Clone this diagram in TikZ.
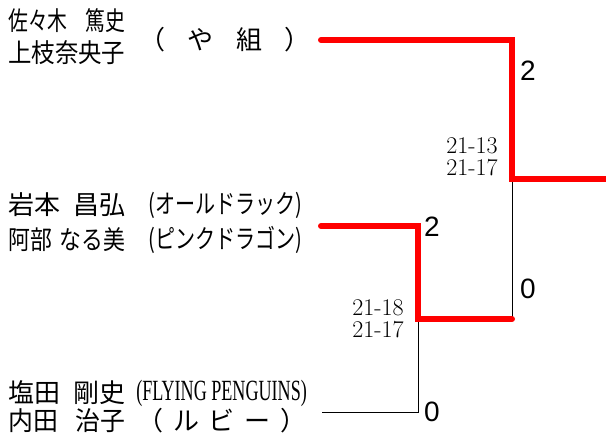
\documentclass[tikz,border=0pt]{standalone}
\usepackage{fontspec}
\usepackage{graphicx}
\newfontfamily\jpfont{Noto Sans CJK JP}
\newfontfamily\digitfont{Liberation Sans}
\newfontfamily\teamfont{Liberation Serif}
\newcommand{\pname}[3]{\resizebox{87.75pt}{\height}{#2\hspace{#1}#3}}
\newcommand{\fitw}[2]{\resizebox{#1}{\height}{#2}}

\begin{document}
\begin{tikzpicture}[
    x=0.75pt, y=-0.75pt,
    player/.style={anchor=west, inner sep=0pt, font=\jpfont\fontsize{19.5}{22}\selectfont},
    team/.style={inner sep=0pt, font=\jpfont\fontsize{19.5}{22}\selectfont},
    score/.style={inner sep=0pt, align=right, font=\fontsize{18}{16.5}\selectfont},
    games/.style={inner sep=0pt, font=\digitfont\fontsize{21}{21}\selectfont},
    win/.style={red, line width=4.5pt, line cap=round},
    lose/.style={black, line width=0.75pt}
]
    \useasboundingbox (0,0) rectangle (606,448);

    % pair 1
    \node[player] (p1a) at (8,21) {\pname{0.9em}{佐々木}{篤史}};
    \node[player] (p1b) at (8,53) {\fitw{87.75pt}{上枝奈央子}};
    \node[team] (t1) at (225,40) {\makebox[129pt]{（\hfill や\hfill 組\hfill ）}};

    % pair 2
    \node[player] (p2a) at (8,205) {\pname{0.5em}{岩本}{昌弘}};
    \node[player] (p2b) at (8,240) {\pname{0.35em}{阿部}{なる美}};
    \node[player] (t2a) at (148,205) {\fitw{115.5pt}{(オールドラック)}};
    \node[player] (t2b) at (148,240) {\fitw{115.5pt}{(ピンクドラゴン)}};

    % pair 3
    \node[player] (p3a) at (8,393) {\pname{0.5em}{塩田}{剛史}};
    \node[player] (p3b) at (8,421) {\pname{0.7em}{内田}{治子}};
    \node[player, font=\teamfont\fontsize{22}{22}\selectfont] (t3a) at (136,393) {\fitw{128pt}{(FLYING PENGUINS)}};
    \node[team] (t3b) at (222,421) {\makebox[127pt]{（\hfill ル\hfill ビ\hfill ー\hfill ）}};

    % scores
    \node[score] (s1) at (472,157) {21-13\\21-17};
    \node[score] (s2) at (378,319) {21-18\\21-17};

    \node[games] (g1) at (528,71) {2};
    \node[games] (g2) at (432,227) {2};
    \node[games] (g3) at (528,289) {0};
    \node[games] (g4) at (432,412) {0};

    % bracket
    \coordinate (in1) at (321,40);
    \coordinate (in2) at (321,226);
    \coordinate (in3) at (322,412);
    \coordinate (j1) at (512,179);
    \coordinate (j2) at (418,319);
    \coordinate (j3) at (512,319);
    \coordinate (out) at (606,179);

    \draw[lose] (in3) -| (j2);
    \draw[lose] (j3) -- (j1);
    \draw[win] (in2) -| (j2) -- (j3);
    \draw[win] (in1) -| (j1) -- (out);

\end{tikzpicture}
\end{document}
